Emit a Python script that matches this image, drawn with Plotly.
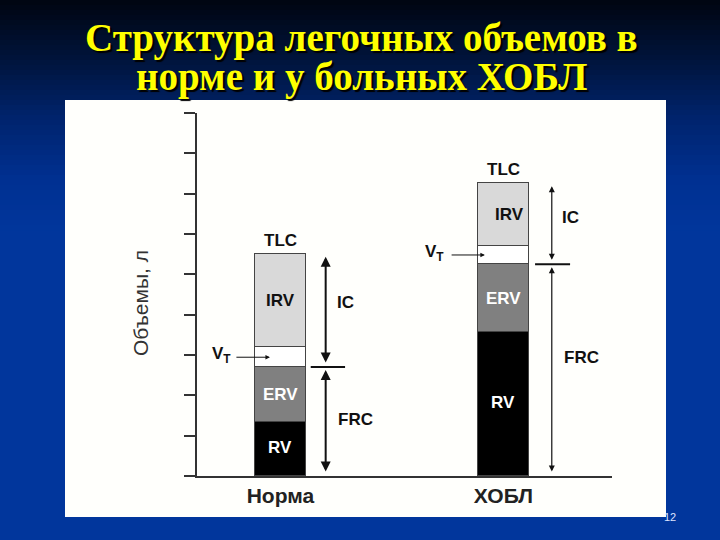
import plotly.graph_objects as go

# ---- data ----
categories = ["Норма", "ХОБЛ"]
rv = [1.33, 3.56]
erv = [1.37, 1.69]
vt = [0.49, 0.46]
irv = [2.32, 1.55]
segment_names = ["RV", "ERV", "VT", "IRV"]
title_lines = ["Структура легочных объемов в", "норме и у больных ХОБЛ"]
y_title = "Объемы, л"
page_number = "12"

# derived values
frc = [a + b for a, b in zip(rv, erv)]
tlc = [a + b + c + d for a, b, c, d in zip(rv, erv, vt, irv)]

# ---- geometry helpers (figure pixels -> paper coords) ----
L, R, T, B = 197, 612, 113, 476
def px(p):
    return (p - L) / (R - L)
def py(p):
    return (B - p) / (B - T)

seg_values = [rv, erv, vt, irv]
seg_colors = ["#000000", "#808080", "#ffffff", "#d9d9d9"]

fig = go.Figure()
for name, vals, col in zip(segment_names, seg_values, seg_colors):
    fig.add_trace(go.Bar(
        x=categories, y=vals, name=name, width=0.229,
        marker=dict(color=col, line=dict(color="#444444", width=1)),
        hoverinfo="skip", showlegend=False))

shapes = []
# background gradient
stops = [(0, (0, 5, 16)), (60, (0, 20, 60)), (120, (0, 36, 110)), (180, (0, 48, 145)), (230, (1, 54, 156))]
def col_at(yv):
    for (y0, c0), (y1, c1) in zip(stops[:-1], stops[1:]):
        if y0 <= yv <= y1:
            t = (yv - y0) / (y1 - y0)
            return "rgb(%d,%d,%d)" % tuple(round(a + (b - a) * t) for a, b in zip(c0, c1))
    return "rgb(%d,%d,%d)" % stops[-1][1]
step = 5
for y0 in range(0, 230, step):
    shapes.append(dict(type="rect", xref="paper", yref="paper", layer="below",
                       x0=px(0), x1=px(720), y0=py(y0 + step + 0.5), y1=py(y0),
                       fillcolor=col_at(y0 + step / 2), line=dict(width=0)))
# white panel
shapes.append(dict(type="rect", xref="paper", yref="paper", layer="below",
                   x0=px(65), x1=px(666), y0=py(517), y1=py(100),
                   fillcolor="#fffffc", line=dict(width=0)))
# FRC level markers
frc_marks = [(0.136, 0.290), (1.142, 1.299)]
for i, (a, b) in enumerate(frc_marks):
    shapes.append(dict(type="line", xref="x", yref="y", x0=a, x1=b, y0=frc[i], y1=frc[i],
                       line=dict(color="#111111", width=2)))

ann = []
lab_font = dict(family="Liberation Sans, Arial", size=17, color="#111111", weight="bold")
# title with shadow
for line, ypx in zip(title_lines, [38, 77]):
    ann.append(dict(xref="paper", yref="paper", x=px(361), y=py(ypx), text=line,
                    xanchor="center", yanchor="middle", showarrow=False,
                    font=dict(family="Liberation Serif, Times New Roman", size=39, color="#ffff00",
                              weight="bold", shadow="2px 2px 1px #000000")))
# y title
ann.append(dict(xref="paper", yref="paper", x=px(140), y=py(303), text=y_title, textangle=-90,
                xanchor="center", yanchor="middle",
                showarrow=False, font=dict(family="Liberation Sans, Arial", size=21, color="#333333")))
# page number
ann.append(dict(xref="paper", yref="paper", x=px(670), y=py(517), text=page_number,
                xanchor="center", yanchor="middle",
                showarrow=False, font=dict(family="Liberation Sans, Arial", size=11, color="#dde4ff")))

# segment labels
irv_dx = [0, 6]
for i in range(2):
    ann.append(dict(x=i, y=tlc[i], yanchor="bottom", yshift=2, text="TLC", showarrow=False, font=lab_font))
    ann.append(dict(x=i, y=frc[i] + vt[i] + irv[i] / 2, xshift=irv_dx[i], text="IRV", showarrow=False, font=lab_font))
    ann.append(dict(x=i, y=rv[i] + erv[i] / 2, text="ERV", showarrow=False,
                    font=dict(lab_font, color="#ffffff")))
    ann.append(dict(x=i, y=rv[i] / 2, yshift=2, text="RV", showarrow=False,
                    font=dict(lab_font, color="#ffffff")))

# IC / FRC arrows
arrow_x = [0.203, 1.217]
arrow_w = [2, 1.2]
for i in range(2):
    for top, bot in [(tlc[i], frc[i]), (frc[i], 0)]:
        ann.append(dict(x=arrow_x[i], y=top, ax=arrow_x[i], ay=bot, axref="x", ayref="y",
                        text="", showarrow=True, arrowhead=2, arrowside="end+start",
                        arrowsize=1, arrowwidth=arrow_w[i], arrowcolor="#111111",
                        standoff=3, startstandoff=3))
ic_pos = [(0.294, 4.31), (1.303, 6.40)]
frc_pos = [(0.335, 1.39), (1.348, 2.93)]
for i in range(2):
    ann.append(dict(x=ic_pos[i][0], y=ic_pos[i][1], text="IC", showarrow=False, font=lab_font))
    ann.append(dict(x=frc_pos[i][0], y=frc_pos[i][1], text="FRC", showarrow=False, font=lab_font))

# VT pointers
vt_arrow = [(-0.204, -0.047), (0.761, 0.917)]
vt_text_x = [-0.263, 0.693]
for i in range(2):
    ymid = frc[i] + vt[i] / 2
    ann.append(dict(x=vt_arrow[i][1], y=ymid, ax=vt_arrow[i][0], ay=ymid, axref="x", ayref="y",
                    text="", showarrow=True, arrowhead=2, arrowsize=0.9, arrowwidth=1,
                    arrowcolor="#111111"))
    ann.append(dict(x=vt_text_x[i], y=ymid, yshift=2, text="V<sub>T</sub>", showarrow=False,
                    font=lab_font))

fig.update_layout(
    width=720, height=540, autosize=False,
    margin=dict(l=L, r=720 - R, t=T, b=540 - B, pad=0),
    paper_bgcolor="#01369c", plot_bgcolor="rgba(0,0,0,0)",
    barmode="stack", bargap=0,
    shapes=shapes, annotations=ann,
    xaxis=dict(type="category", range=[-0.374, 1.487], showline=True, linecolor="#333333",
               linewidth=2, ticks="", showgrid=False, zeroline=False,
               tickfont=dict(family="Liberation Sans, Arial", size=21, color="#222222", weight="bold")),
    yaxis=dict(range=[0, 9], dtick=1, tick0=0, ticks="outside", ticklen=11, tickwidth=2,
               tickcolor="#333333", showline=True, linecolor="#333333", linewidth=2,
               showticklabels=False, showgrid=False, zeroline=False),
)
fig.write_html("out.html", config={"displayModeBar": False},
               post_script="document.body.style.margin='0px';")
